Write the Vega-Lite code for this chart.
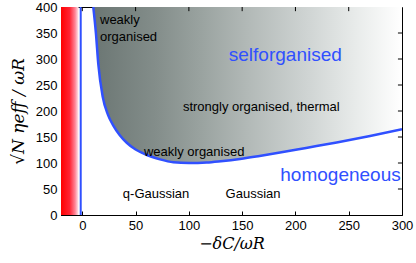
{
  "$schema": "https://vega.github.io/schema/vega-lite/v6.json",
  "width": 341,
  "height": 208,
  "autosize": "none",
  "padding": {"left": 61, "top": 7, "right": 14, "bottom": 48},
  "config": {
    "view": {"stroke": "#000", "strokeWidth": 1},
    "axis": {"labelFont": "Liberation Sans", "labelFontSize": 13, "labelColor": "#000", "domainColor": "#000", "tickColor": "#000", "tickSize": -4, "grid": false, "titleColor": "#000", "labelFlush": false, "labelPadding": 8, "labelBound": false, "labelSeparation": 0, "titleFont": "DejaVu Serif", "titleFontStyle": "italic", "titleFontWeight": "normal"}
  },
  "datasets": {
    "curve": [
      {"x": 10.3, "y": 400}, {"x": 12.8, "y": 349}, {"x": 15, "y": 290}, {"x": 19.1, "y": 228},
      {"x": 24, "y": 193}, {"x": 29.1, "y": 172}, {"x": 35, "y": 154}, {"x": 41.7, "y": 139},
      {"x": 50, "y": 126}, {"x": 57.2, "y": 118.6}, {"x": 65, "y": 112}, {"x": 72.9, "y": 107},
      {"x": 85.4, "y": 101.5}, {"x": 100, "y": 100}, {"x": 116.7, "y": 101}, {"x": 130, "y": 103.5},
      {"x": 148, "y": 107.8}, {"x": 165, "y": 113}, {"x": 185.5, "y": 120}, {"x": 210, "y": 129},
      {"x": 238.7, "y": 139.5}, {"x": 270, "y": 152}, {"x": 300, "y": 165}
    ],
    "red": [{"x0": -20, "x1": -3.5}],
    "vline": [{"x": -1.5}],
    "xticks": [{"v": 0}, {"v": 50}, {"v": 100}, {"v": 150}, {"v": 200}, {"v": 250}],
    "yticks": [{"v": 50}, {"v": 100}, {"v": 150}, {"v": 200}, {"v": 250}, {"v": 300}, {"v": 350}],
    "blackText": [
      {"t": "weakly", "x": 16.6, "y": 375},
      {"t": "organised", "x": 16.6, "y": 343}
    ],
    "midText": [
      {"t": "strongly organised, thermal", "x": 168, "y": 208},
      {"t": "weakly organised", "x": 105, "y": 121.5},
      {"t": "q-Gaussian", "x": 69.2, "y": 40.4},
      {"t": "Gaussian", "x": 160.2, "y": 40.4}
    ],
    "blueText": [
      {"t": "selforganised", "x": 190.5, "y": 307.7},
      {"t": "homogeneous", "x": 242.3, "y": 77}
    ]
  },
  "layer": [
    {
      "data": {"name": "red"},
      "mark": {"type": "rect", "clip": true, "color": {"gradient": "linear", "x1": 0, "x2": 1, "y1": 0, "y2": 0, "stops": [{"offset": 0, "color": "#ff0000"}, {"offset": 0.5, "color": "#ff2535"}, {"offset": 0.8, "color": "#ff8596"}, {"offset": 1, "color": "#ffeef2"}]}},
      "encoding": {
        "x": {"field": "x0", "type": "quantitative", "scale": {"domain": [-20, 300], "nice": false, "zero": false}, "axis": {"values": [0, 50, 100, 150, 200, 250, 300], "labelOverlap": false, "title": "−δC/ωR", "titleFontSize": 16, "titlePadding": 3}},
        "x2": {"field": "x1"},
        "y": {"datum": 0, "type": "quantitative", "scale": {"domain": [0, 400], "nice": false, "zero": false}, "axis": {"values": [0, 50, 100, 150, 200, 250, 300, 350, 400], "labelOverlap": false, "title": "√N  ηeff / ωR", "titleFontSize": 17, "titlePadding": 8}},
        "y2": {"datum": 400}
      }
    },
    {
      "data": {"name": "curve"},
      "mark": {"type": "area", "clip": true, "interpolate": "monotone", "color": {"gradient": "linear", "x1": 0, "x2": 1, "y1": 0, "y2": 0, "stops": [{"offset": 0, "color": "#6b7673"}, {"offset": 0.2, "color": "#838d8a"}, {"offset": 0.35, "color": "#9aa3a0"}, {"offset": 0.5, "color": "#b2b9b7"}, {"offset": 0.7, "color": "#d0d5d4"}, {"offset": 0.85, "color": "#e8ebea"}, {"offset": 1, "color": "#ffffff"}]}},
      "encoding": {
        "x": {"field": "x", "type": "quantitative", "axis": {"values": [0, 50, 100, 150, 200, 250, 300], "labelOverlap": false, "title": "−δC/ωR", "titleFontSize": 16, "titlePadding": 3}},
        "y": {"field": "y", "type": "quantitative", "axis": {"values": [0, 50, 100, 150, 200, 250, 300, 350, 400], "labelOverlap": false, "title": "√N  ηeff / ωR", "titleFontSize": 17, "titlePadding": 8}},
        "y2": {"datum": 400}
      }
    },
    {
      "data": {"name": "curve"},
      "mark": {"type": "line", "clip": true, "interpolate": "monotone", "color": "#3050ff", "strokeWidth": 2.5},
      "encoding": {
        "x": {"field": "x", "type": "quantitative", "axis": {"values": [0, 50, 100, 150, 200, 250, 300], "labelOverlap": false, "title": "−δC/ωR", "titleFontSize": 16, "titlePadding": 3}},
        "y": {"field": "y", "type": "quantitative", "axis": {"values": [0, 50, 100, 150, 200, 250, 300, 350, 400], "labelOverlap": false, "title": "√N  ηeff / ωR", "titleFontSize": 17, "titlePadding": 8}}
      }
    },
    {
      "data": {"name": "vline"},
      "mark": {"type": "rule", "color": "#3050ff", "strokeWidth": 2},
      "encoding": {
        "x": {"field": "x", "type": "quantitative", "axis": {"values": [0, 50, 100, 150, 200, 250, 300], "labelOverlap": false, "title": "−δC/ωR", "titleFontSize": 16, "titlePadding": 3}}
      }
    },
    {
      "data": {"name": "xticks"},
      "mark": {"type": "rule", "color": "#000", "strokeWidth": 1},
      "encoding": {
        "x": {"field": "v", "type": "quantitative", "axis": {"values": [0, 50, 100, 150, 200, 250, 300], "labelOverlap": false, "title": "−δC/ωR", "titleFontSize": 16, "titlePadding": 3}},
        "y": {"datum": 400, "type": "quantitative", "axis": {"values": [0, 50, 100, 150, 200, 250, 300, 350, 400], "labelOverlap": false, "title": "√N  ηeff / ωR", "titleFontSize": 17, "titlePadding": 8}},
        "y2": {"datum": 392}
      }
    },
    {
      "data": {"name": "yticks"},
      "mark": {"type": "rule", "color": "#000", "strokeWidth": 1},
      "encoding": {
        "y": {"field": "v", "type": "quantitative", "axis": {"values": [0, 50, 100, 150, 200, 250, 300, 350, 400], "labelOverlap": false, "title": "√N  ηeff / ωR", "titleFontSize": 17, "titlePadding": 8}},
        "x": {"datum": 300, "type": "quantitative", "axis": {"values": [0, 50, 100, 150, 200, 250, 300], "labelOverlap": false, "title": "−δC/ωR", "titleFontSize": 16, "titlePadding": 3}},
        "x2": {"datum": 296.2}
      }
    },
    {
      "data": {"name": "blackText"},
      "mark": {"type": "text", "align": "left", "baseline": "middle", "font": "Liberation Sans", "fontSize": 13, "color": "#000"},
      "encoding": {
        "x": {"field": "x", "type": "quantitative", "axis": {"values": [0, 50, 100, 150, 200, 250, 300], "labelOverlap": false, "title": "−δC/ωR", "titleFontSize": 16, "titlePadding": 3}},
        "y": {"field": "y", "type": "quantitative", "axis": {"values": [0, 50, 100, 150, 200, 250, 300, 350, 400], "labelOverlap": false, "title": "√N  ηeff / ωR", "titleFontSize": 17, "titlePadding": 8}},
        "text": {"field": "t"}
      }
    },
    {
      "data": {"name": "midText"},
      "mark": {"type": "text", "align": "center", "baseline": "middle", "font": "Liberation Sans", "fontSize": 13, "color": "#000"},
      "encoding": {
        "x": {"field": "x", "type": "quantitative", "axis": {"values": [0, 50, 100, 150, 200, 250, 300], "labelOverlap": false, "title": "−δC/ωR", "titleFontSize": 16, "titlePadding": 3}},
        "y": {"field": "y", "type": "quantitative", "axis": {"values": [0, 50, 100, 150, 200, 250, 300, 350, 400], "labelOverlap": false, "title": "√N  ηeff / ωR", "titleFontSize": 17, "titlePadding": 8}},
        "text": {"field": "t"}
      }
    },
    {
      "data": {"name": "blueText"},
      "mark": {"type": "text", "align": "center", "baseline": "middle", "font": "Liberation Sans", "fontSize": 19, "color": "#3050ff"},
      "encoding": {
        "x": {"field": "x", "type": "quantitative", "axis": {"values": [0, 50, 100, 150, 200, 250, 300], "labelOverlap": false, "title": "−δC/ωR", "titleFontSize": 16, "titlePadding": 3}},
        "y": {"field": "y", "type": "quantitative", "axis": {"values": [0, 50, 100, 150, 200, 250, 300, 350, 400], "labelOverlap": false, "title": "√N  ηeff / ωR", "titleFontSize": 17, "titlePadding": 8}},
        "text": {"field": "t"}
      }
    }
  ]
}
